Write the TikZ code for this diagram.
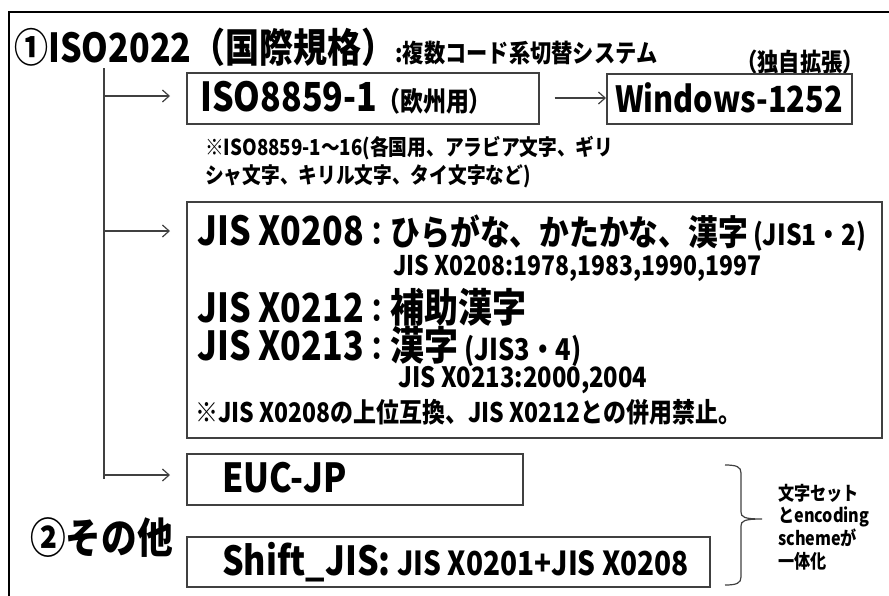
\documentclass[tikz,border=0pt]{standalone}
\usepackage{fontspec}
\setmainfont{Noto Sans CJK JP}[FakeStretch=0.85]
\usetikzlibrary{arrows.meta}
\newcommand\fsz[1]{\fontsize{\dimexpr #1pt*3/4\relax}{\dimexpr #1pt*9/10\relax}\selectfont}
\begin{document}
\begin{tikzpicture}[x=0.75pt,y=-0.75pt,
  boxst/.style={draw=black!75,line width=1.3pt,inner sep=0pt,anchor=north west},
  txt/.style={anchor=west,inner sep=0pt,font=\bfseries},
  arr/.style={draw=black!75,line width=0.9pt,-{Straight Barb[length=5pt,width=9pt]}},
  frame/.style={draw=black,line width=1.6pt}]
\useasboundingbox (0,0) rectangle (889,596);
\begin{scope}
\clip (0,0) rectangle (889,596);
\draw[frame] (9,12) rectangle (900,610);
\end{scope}
% title
\node[txt] (title) at (14,47) {{\fsz{40}①ISO2022（国際規格）}{\fsz{25}:複数コード系切替システム}};
\node[txt] (ext) at (736,62) {\fsz{25}（独自拡張）};
% boxes
\node[boxst,minimum width=352*0.75pt,minimum height=51*0.75pt] (iso) at (186,72) {};
\node[boxst,minimum width=245*0.75pt,minimum height=50*0.75pt] (win) at (606,73) {};
\node[boxst,minimum width=695*0.75pt,minimum height=236*0.75pt] (jis) at (186,201) {};
\node[boxst,minimum width=336*0.75pt,minimum height=51*0.75pt] (euc) at (186,453) {};
\node[boxst,minimum width=523*0.75pt,minimum height=50*0.75pt] (sjis) at (186,536) {};
% box texts
\node[txt] (isot) at (200,98) {{\fsz{40}ISO8859-1}{\fsz{27}（欧州用）}};
\node[txt] (wint) at (615,98) {\fsz{36}Windows-1252};
\node[txt] (n1) at (205,148) {\fsz{22}※ISO8859-1～16(各国用、アラビア文字、ギリ};
\node[txt] (n2) at (205,176) {\fsz{22}シャ文字、キリル文字、タイ文字など)};
\node[txt] (j1) at (197,233) {{\fsz{40}JIS X0208}{\fsz{32}：}{\fsz{35}ひらがな、かたかな、漢字}{\fsz{29} (JIS1・2)}};
\node[txt] (j2) at (393,268) {\fsz{27}JIS X0208:1978,1983,1990,1997};
\node[txt] (j3) at (197,307) {{\fsz{40}JIS X0212}{\fsz{32}：}{\fsz{40}補助漢字}};
\node[txt] (j4) at (197,346) {{\fsz{40}JIS X0213}{\fsz{32}：}{\fsz{40}漢字}{\fsz{30} (JIS3・4)}};
\node[txt] (j5) at (398,380) {\fsz{28}JIS X0213:2000,2004};
\node[txt] (j6) at (195,412) {\fsz{27}※JIS X0208の上位互換、JIS X0212との併用禁止。};
\node[txt] (euct) at (222,478) {\fsz{40}EUC-JP};
\node[txt] (sjist) at (222,562) {{\fsz{40}Shift\_JIS:}{\fsz{33} JIS X0201+JIS X0208}};
\node[txt] (other) at (30,538) {\fsz{42}②その他};
\node[txt,align=left,font=\bfseries\fsz{19}] (side) at (778,527) {文字セット\\とencoding\\schemeが\\一体化};
% trunk and arrows
\coordinate (t0) at (104,68);
\coordinate (t1) at (104,479);
\coordinate (a1) at (104,96);
\coordinate (a2) at (104,231);
\coordinate (a3) at (104,475);
\draw[draw=black!75,line width=0.9pt] (t0) -- (t1);
\draw[arr,shorten >=16*0.75pt] (a1) -- (a1 -| iso.west);
\draw[arr,shorten >=16*0.75pt] (a2) -- (a2 -| jis.west);
\draw[arr,shorten >=16*0.75pt] (a3) -- (a3 -| euc.west);
\draw[arr,shorten <=15*0.75pt] (iso.east |- 0,98) -- (win.west |- 0,98);
% brace
\draw[draw=black!75,line width=0.9pt] (725,465) .. controls (737,465) and (741,467) .. (741,473) -- (741,512) .. controls (741,517) and (744,519) .. (762,519) .. controls (744,519) and (741,521) .. (741,526) -- (741,577) .. controls (741,583) and (737,585) .. (725,585);
\end{tikzpicture}
\end{document}
